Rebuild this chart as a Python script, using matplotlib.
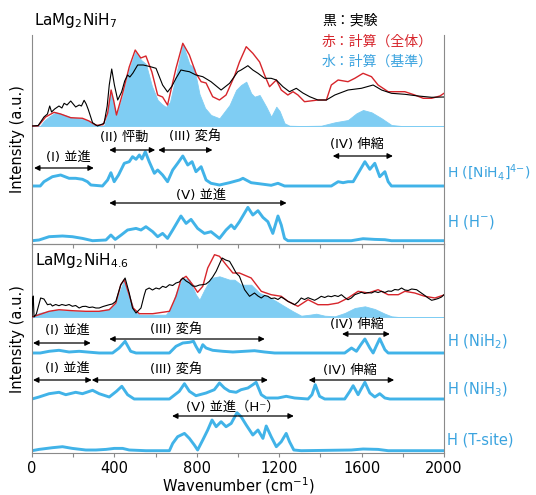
import matplotlib
matplotlib.use("Agg")
import matplotlib.pyplot as plt

plt.rcParams['font.family'] = ['DejaVu Sans', 'Noto Sans CJK JP']
plt.rcParams['mathtext.fontset'] = 'dejavusans'

# ---- data: LaMg2NiH7 (top panel) ----
top_base_w = [0, 40, 58, 83, 115, 148, 196, 245, 277, 302, 326, 350, 367, 382, 398, 410, 440, 472, 501, 530, 553, 582, 610, 630, 650, 670, 707, 732, 764, 788, 813, 840, 869, 910, 959, 991, 1015, 1040, 1064, 1080, 1105, 1137, 1161, 1186, 1202, 1226, 1250, 1307, 1404, 1470, 1534, 1575, 1607, 1648, 1697, 1745, 1794, 2000]
top_base_i = [0, 0, 5, 9.3, 13.7, 11.7, 8.3, 7, 5, 1.7, 0, 0.5, 12, 36, 20, 11, 30, 57, 74, 66, 62, 40, 26, 22, 19, 24, 58, 82, 62, 57.7, 32, 18, 11, 7.7, 21, 36, 41, 44.3, 32.7, 29.3, 31, 19.3, 9.3, 19.3, 15, 2.7, 0.3, 0, 0.3, 3.7, 6, 12.7, 16, 13.7, 7.7, 1, 0, 0]

top_calc_w = [0, 30, 66, 107, 139, 188, 245, 277, 310, 345, 367, 384, 397, 410, 440, 472, 501, 528, 553, 582, 610, 634, 658, 699, 732, 764, 796, 821, 845, 877, 910, 942, 983, 1007, 1040, 1072, 1105, 1129, 1153, 1186, 1210, 1242, 1267, 1291, 1323, 1388, 1429, 1453, 1486, 1534, 1567, 1607, 1648, 1680, 1729, 1761, 1810, 1858, 1899, 1940, 1980, 2000]
top_calc_i = [0, 0, 9, 13.7, 12, 8.3, 7.7, 5, 0.7, 1.3, 12.7, 36, 25, 11, 32.7, 59, 76, 68, 70, 54, 31, 29, 21, 57.7, 82.7, 71, 52.7, 44.3, 43, 29.3, 26, 31, 50, 64, 79.3, 72.7, 64, 51, 39.3, 46, 36, 31, 34.3, 31, 24.3, 26, 26, 41, 46, 44.3, 47.7, 52.7, 49.3, 41, 34.3, 34.3, 34.3, 31, 27.7, 27.7, 30, 32.7]

top_exp_w = [0, 30, 58, 75, 86, 95, 110, 131, 145, 156, 170, 188, 200, 212, 229, 240, 253, 263, 274, 294, 318, 350, 365, 375, 387, 400, 416, 435, 450, 464, 475, 490, 513, 540, 561, 580, 602, 634, 658, 680, 699, 723, 745, 764, 796, 829, 869, 918, 959, 999, 1015, 1048, 1072, 1097, 1129, 1161, 1186, 1218, 1250, 1283, 1315, 1348, 1388, 1429, 1470, 1534, 1599, 1656, 1697, 1745, 1810, 1875, 1940, 2000]
top_exp_i = [0, 0.5, 9, 12, 20, 14, 17, 20, 18, 22.7, 21, 25, 22, 19, 21, 20, 25.7, 22, 16, 3.3, 0, 2.7, 20, 41, 57, 41, 26, 34, 45, 51, 49, 53, 61, 61, 60, 59, 57.7, 41, 34, 40, 47.7, 56, 55, 54.3, 51, 49.3, 44.3, 36, 42.7, 54.3, 56, 60.3, 56, 52.7, 47.7, 47.7, 46, 39.3, 34.3, 37.7, 33, 29.3, 26, 26, 31, 36, 37.7, 41, 36, 32.7, 31.7, 30, 28.7, 29]

top_nih4_w = [0, 40, 58, 99, 139, 180, 212, 245, 269, 286, 342, 367, 383, 399, 420, 448, 472, 488, 505, 521, 534, 550, 569, 594, 610, 634, 658, 683, 707, 732, 756, 777, 796, 821, 845, 869, 910, 959, 1007, 1024, 1064, 1113, 1161, 1194, 1226, 1453, 1486, 1510, 1534, 1559, 1583, 1616, 1640, 1664, 1688, 1713, 1729, 1745, 2000]
top_nih4_i = [0, 0, 4.3, 9.3, 11, 7.7, 7.7, 6.7, 4.3, 1, 0, 6, 13.3, 4.3, 11, 22.7, 24.3, 29.3, 26.7, 31, 27, 34.3, 24.3, 12.7, 16, 11, 4.3, 16, 22.7, 30, 21, 24.3, 14.3, 19.3, 6, 2.7, 1, 3.3, 6, 7.7, 3.3, 2, 0.7, 2.7, 0, 0, 4.3, 3.3, 4.3, 4.3, 12.7, 24.3, 16.7, 22.7, 9.3, 14.3, 4.3, 0, 0]

top_hm_w = [0, 34, 83, 148, 196, 245, 294, 359, 383, 404, 433, 464, 505, 529, 553, 586, 610, 634, 658, 683, 723, 748, 772, 804, 837, 869, 910, 942, 967, 983, 1007, 1048, 1072, 1097, 1121, 1145, 1169, 1194, 1210, 1226, 1242, 1550, 1607, 1664, 1713, 1745, 2000]
top_hm_i = [0, 0.7, 4, 4.7, 4, 2.3, 0, 0.7, 5.7, 1.3, 5.7, 10.7, 12.3, 10.7, 14, 9, 4, 7.3, 2.3, 10.7, 24.7, 17.3, 21.3, 12.3, 7.3, 9, 2.3, 10.7, 15.7, 12, 19, 33.3, 25.7, 30, 23.3, 19, 7.3, 24.7, 15.7, 2.3, 0, 0, 2, 1.3, 1, 0, 0]

# ---- data: LaMg2NiH4.6 (bottom panel) ----
bot_base_w = [0, 34, 115, 196, 310, 375, 407, 430, 448, 472, 496, 521, 602, 650, 675, 699, 732, 764, 796, 813, 837, 869, 910, 959, 983, 1015, 1064, 1105, 1145, 1186, 1226, 1267, 1307, 1348, 1380, 1421, 1470, 1518, 1567, 1616, 1664, 1713, 1745, 1780, 2000]
bot_base_i = [0, 4, 7.3, 5.7, 5.7, 8, 14, 28, 37.3, 22, 5.7, 2.3, 2.3, 2.3, 9, 24, 39, 37.3, 22.3, 17.3, 27.3, 39, 40.7, 37.3, 37.3, 32.3, 32.3, 24, 20.7, 15.7, 10.7, 5.7, 1.3, 2.3, 3.3, 1.3, 0.7, 4, 9, 10.7, 8, 3.3, 0.7, 0, 0]

bot_calc_w = [0, 34, 83, 131, 196, 261, 326, 375, 407, 431, 448, 469, 491, 521, 586, 667, 699, 723, 748, 780, 804, 829, 853, 886, 910, 942, 975, 1007, 1064, 1113, 1161, 1210, 1242, 1291, 1340, 1388, 1437, 1486, 1534, 1583, 1632, 1680, 1729, 1778, 1810, 1858, 1907, 1956, 2000]
bot_calc_i = [0, 2.3, 5.7, 7.3, 6.3, 5.7, 5.7, 7.3, 14, 32.3, 37.3, 24, 9, 3.3, 3.3, 5.7, 20.7, 37.3, 40.7, 32.3, 24.7, 30.7, 49, 62.3, 60.7, 52.3, 44, 44, 39, 25.7, 22.3, 20.7, 15.7, 10.7, 17.3, 12.3, 12.3, 14, 19, 25.7, 24, 27.3, 22.3, 22.3, 25.7, 24, 20.7, 19, 22]

bot_exp_w = [0, 3, 6, 10, 21, 42, 58, 75, 90, 99, 115, 131, 145, 164, 180, 196, 212, 229, 245, 261, 278, 294, 310, 326, 345, 375, 390, 407, 431, 452, 472, 488, 505, 529, 545, 553, 569, 585, 602, 618, 634, 650, 667, 683, 699, 715, 732, 748, 764, 780, 796, 813, 829, 845, 861, 877, 894, 923, 940, 959, 975, 991, 1007, 1032, 1056, 1080, 1097, 1113, 1129, 1145, 1161, 1178, 1194, 1210, 1226, 1242, 1259, 1275, 1291, 1307, 1323, 1340, 1356, 1372, 1388, 1404, 1421, 1437, 1453, 1470, 1486, 1502, 1518, 1534, 1550, 1567, 1583, 1599, 1615, 1632, 1648, 1664, 1680, 1697, 1713, 1729, 1745, 1761, 1778, 1794, 1810, 1826, 1843, 1867, 1883, 1907, 1923, 1940, 1956, 1972, 1988, 2000]
bot_exp_i = [0.5, 18, 21, 0, 3, 19, 18, 12.3, 13, 11, 12.5, 11.3, 12.5, 11.5, 12.5, 10.7, 11.5, 9, 10.5, 10.7, 9.5, 10, 9, 9, 10.5, 12.3, 13, 15.7, 32.3, 39, 24, 9, 4, 9, 22, 27.3, 29, 27, 29, 28, 30.7, 29.5, 32.3, 31.5, 34, 35, 39, 36, 34, 31, 30.7, 32, 32.3, 33, 35.7, 40, 45.7, 59, 57, 55.7, 50, 44, 40.7, 27.3, 20.7, 24, 21, 19, 21.5, 20.7, 18.5, 19, 17.5, 20, 18, 15.7, 14, 12.3, 15, 19, 17.5, 19.3, 18, 16.7, 18.5, 20.7, 19.5, 21, 20.3, 21.5, 20.5, 22.3, 19.5, 17.3, 19, 22.3, 23.5, 24.7, 23.5, 24.5, 24, 25.5, 24.5, 25.7, 24.5, 26, 25.7, 27.5, 27, 29, 27, 26.5, 28, 27.3, 25, 21.5, 19, 16.7, 17.5, 18.5, 20, 22.3]

bot_nih2_w = [0, 40, 83, 131, 180, 229, 285, 326, 391, 423, 452, 479, 505, 667, 699, 732, 764, 784, 796, 813, 829, 845, 877, 926, 975, 1032, 1080, 1129, 1178, 1518, 1551, 1575, 1596, 1616, 1640, 1656, 1672, 1688, 1713, 1729, 2000]
bot_nih2_i = [0, 0, 1.7, 2.7, 1, 1.7, 0.7, 0, 0, 5, 11.7, 1.7, 0, 0, 6.7, 10, 10.7, 11.7, 6.7, 0.7, 8.3, 5, 2.7, 1.7, 1, 1.7, 2.3, 1, 0, 0, 5, 1.7, 8.3, 14, 5, 0, 7.3, 14.3, 3.3, 0, 0]

bot_nih3_w = [0, 34, 83, 131, 164, 212, 245, 294, 326, 375, 410, 436, 464, 496, 667, 715, 740, 764, 796, 845, 885, 910, 934, 959, 991, 1015, 1048, 1072, 1088, 1113, 1137, 1194, 1234, 1275, 1340, 1359, 1375, 1396, 1421, 1518, 1543, 1559, 1583, 1596, 1616, 1640, 1664, 1688, 1713, 1737, 2000]
bot_nih3_i = [0, 2, 5.3, 6.7, 4.3, 6.7, 5.3, 8.7, 5.3, 2, 7.7, 12.7, 4.3, 0, 0, 7.7, 15.3, 7.7, 3.3, 6, 9.3, 16, 11, 7.7, 6.7, 9.3, 11, 14.3, 16.7, 4.3, 1, 1, 2.7, 1, 0, 4.3, 14.3, 2.7, 0, 0, 7.7, 13.3, 4.3, 9.3, 16.7, 6, 2, 5.3, 1, 0, 0]

bot_ts_w = [0, 34, 99, 148, 196, 261, 310, 359, 399, 440, 472, 553, 667, 683, 707, 740, 764, 788, 804, 829, 853, 874, 894, 918, 942, 967, 995, 1015, 1040, 1072, 1097, 1121, 1137, 1161, 1186, 1210, 1234, 1250, 1271, 1307, 1550, 1607, 1680, 1729, 2000]
bot_ts_i = [0, 1.3, 3, 4, 2.3, 0.7, 0.7, 1.3, 2.3, 2.3, 0.7, 0, 0, 7.3, 14, 17.3, 12.3, 5.7, 0.7, 10.7, 20.7, 30.7, 24, 29, 24, 27.3, 38, 34, 25.7, 15.7, 20.7, 12.3, 24.7, 14, 4, 9, 17.3, 9, 0.7, 0, 0.7, 1.7, 1.3, 0, 0]

xtick_pos = [0, 200, 400, 600, 800, 1000, 1200, 1400, 1600, 1800, 2000]
xtick_lab = ['0', '', '400', '', '800', '', '1200', '', '1600', '', '2000']

BLUE_LINE = '#41b3e8'
BLUE_FILL = '#7fcdf3'
BLUE_TEXT = '#3aa3df'
RED = '#d7252b'
GRAY = '#8a8a8a'

fig = plt.figure(figsize=(5.36, 4.95), dpi=100)
W, H = 536, 495
ax_top = fig.add_axes([32 / W, 1 - 244 / H, 412 / W, 209 / H])
ax_bot = fig.add_axes([32 / W, 1 - 453 / H, 412 / W, 209 / H])


def spectra(ax, off, bw, bi, cw, ci, ew, ei):
    ax.fill_between(bw, off, [off + v for v in bi], color=BLUE_FILL, lw=0.6, zorder=1)
    ax.plot(cw, [off + v for v in ci], color=RED, lw=1.0, zorder=3)
    ax.plot(ew, [off + v for v in ei], color='black', lw=0.8, zorder=4)


def hcurve(ax, off, w, i):
    ax.plot(w, [off + v for v in i], color=BLUE_LINE, lw=2.1, solid_capstyle='round', zorder=2)


def arrow(ax, x0, x1, y):
    ax.annotate('', xy=(x1, y), xytext=(x0, y),
                arrowprops=dict(arrowstyle='<|-|>', color='black', lw=0.9,
                                mutation_scale=8, shrinkA=0, shrinkB=0))


def label(ax, x, y, s):
    ax.text(x, y, s, ha='center', va='center', fontsize=9.5)


# top panel
spectra(ax_top, 118, top_base_w, top_base_i, top_calc_w, top_calc_i, top_exp_w, top_exp_i)
hcurve(ax_top, 58, top_nih4_w, top_nih4_i)
hcurve(ax_top, 3.3, top_hm_w, top_hm_i)
arrow(ax_top, 10, 300, 76); label(ax_top, 176, 87, '(I) 並進')
arrow(ax_top, 375, 598, 94); label(ax_top, 447, 107, '(II) 怦動')
arrow(ax_top, 613, 876, 94); label(ax_top, 790, 107, '(III) 変角')
arrow(ax_top, 1460, 1752, 88); label(ax_top, 1575, 100, '(IV) 伸縮')
arrow(ax_top, 375, 1236, 41); label(ax_top, 820, 49, '(V) 並進')

# bottom panel
spectra(ax_bot, 136, bot_base_w, bot_base_i, bot_calc_w, bot_calc_i, bot_exp_w, bot_exp_i)
hcurve(ax_bot, 100, bot_nih2_w, bot_nih2_i)
hcurve(ax_bot, 54, bot_nih3_w, bot_nih3_i)
hcurve(ax_bot, 2.3, bot_ts_w, bot_ts_i)
arrow(ax_bot, 5, 285, 110); label(ax_bot, 172, 123, '(I) 並進')
arrow(ax_bot, 375, 1130, 114); label(ax_bot, 700, 123, '(III) 変角')
arrow(ax_bot, 1505, 1737, 119); label(ax_bot, 1575, 129, '(IV) 伸縮')
arrow(ax_bot, 5, 290, 73); label(ax_bot, 172, 85, '(I) 並進')
arrow(ax_bot, 290, 1145, 73); label(ax_bot, 700, 83, '(III) 変角')
arrow(ax_bot, 1343, 1758, 73); label(ax_bot, 1543, 83, '(IV) 伸縮')
arrow(ax_bot, 680, 1271, 37); label(ax_bot, 975, 46, '(V) 並進（H⁻）')

for ax in (ax_top, ax_bot):
    ax.set_xlim(0, 2000)
    ax.set_ylim(0, 209)
    ax.set_yticks([])
    ax.set_xticks(xtick_pos)
    ax.set_xticklabels(xtick_lab)
    ax.tick_params(axis='x', direction='out', length=3, width=0.8, color=GRAY,
                   labelsize=10.5, pad=2.5)
    for sp in ax.spines.values():
        sp.set_color(GRAY)
        sp.set_linewidth(0.8)
    ax.patch.set_alpha(0)
ax_top.spines['top'].set_visible(False)
ax_top.tick_params(labelbottom=False)

fig.text(238 / W, 1 - 491 / H, 'Wavenumber (cm$^{-1}$)', ha='center', va='baseline', fontsize=10.5)

ax_top.text(0.005, 1 + 10 / 209, r'LaMg$_2$NiH$_7$', transform=ax_top.transAxes,
            fontsize=11, va='baseline', ha='left')
ax_bot.text(0.007, 1 - 21 / 209, r'LaMg$_2$NiH$_{4.6}$', transform=ax_bot.transAxes,
            fontsize=11, va='baseline', ha='left')

fig.text(18 / W, 1 - 139 / H, 'Intensity (a.u.)', rotation=90, va='center', ha='center', fontsize=10.5)
fig.text(18 / W, 1 - 339 / H, 'Intensity (a.u.)', rotation=90, va='center', ha='center', fontsize=10.5)

fig.text(322 / W, 1 - 20 / H, '黒：実験', va='center', fontsize=10, color='black')
fig.text(322 / W, 1 - 42 / H, '赤：計算（全体）', va='center', fontsize=10, color=RED)
fig.text(322 / W, 1 - 62 / H, '水：計算（基準）', va='center', fontsize=10, color=BLUE_TEXT)

right = [(173, r'H ([NiH$_4$]$^{4{-}}$)', 10), (222, r'H (H$^{{-}}$)', 10.5),
         (342, r'H (NiH$_2$)', 10.5), (390, r'H (NiH$_3$)', 10.5), (440, 'H (T-site)', 10.5)]
for py, s, fs in right:
    fig.text(447 / W, 1 - py / H, s, va='center', ha='left', fontsize=fs, color=BLUE_TEXT)

fig.savefig('out.png', dpi=100)
